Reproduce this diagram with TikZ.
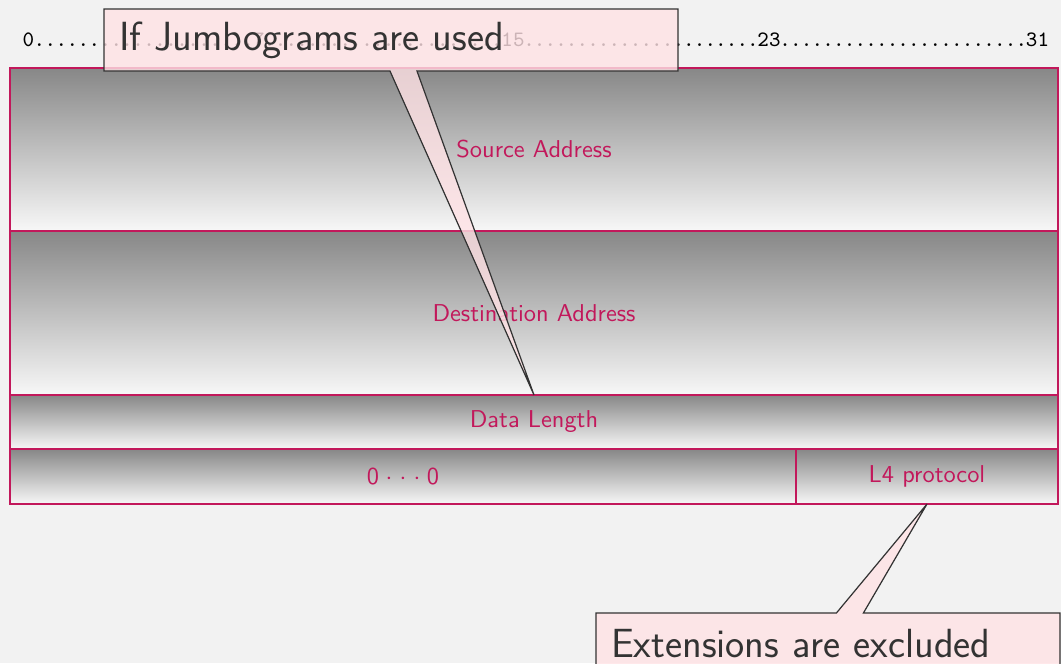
\documentclass[tikz,border=0pt]{standalone}
\usetikzlibrary{shapes.callouts}
\definecolor{bgc}{RGB}{242,242,242}
\definecolor{crim}{RGB}{194,24,91}
\definecolor{pinkc}{RGB}{255,226,229}
\definecolor{callc}{RGB}{51,51,51}
\newcommand\pxu{0.41pt}
\begin{document}
\begin{tikzpicture}[x=0.41pt,y=-0.41pt,
  field/.style={draw=crim, line width=0.6pt, top color=black!47, bottom color=black!3,
    text=crim, font=\sffamily, inner sep=0pt, outer sep=0pt, anchor=north west},
  rulenum/.style={font=\ttfamily\fontsize{9}{10}\selectfont, inner sep=0pt, text=black, anchor=base},
  note/.style={rectangle callout, draw=callc, line width=0.5pt, fill=pinkc, fill opacity=0.8,
    text opacity=1, text=callc, font=\sffamily\fontsize{16.7}{19}\selectfont, align=left,
    inner xsep=15*\pxu, callout pointer width=27*\pxu}
]
\clip (0,0) rectangle (1061,663);
\fill[bgc] (0,0) rectangle (1061,663);
% ruler
\node[rulenum] (r0) at (28.5,46) {0};
\node[rulenum] (r7) at (259,46) {7};
\node[rulenum] (r15) at (513,46) {15};
\node[rulenum] (r23) at (769,46) {23};
\node[rulenum] (r31) at (1037.5,46) {31};
\foreach \a/\b/\n/\g in {33.8/253.7/20/a, 264.3/502.3/22/b, 523.7/758.3/22/c, 779.7/1026.8/23/d}{
  \foreach \k in {1,...,\n}{
    \node[rulenum] (dot\g\k) at ({\a+(\k-0.5)*(\b-\a)/\n},46) {.};
  }
}
% fields
\node[field, minimum width=1048*\pxu, minimum height=163*\pxu] (src) at (10,68) {Source Address};
\node[field, minimum width=1048*\pxu, minimum height=164*\pxu] (dst) at (10,231) {Destination Address};
\node[field, minimum width=1048*\pxu, minimum height=54*\pxu] (dl) at (10,395) {Data Length};
\node[field, minimum width=786*\pxu, minimum height=55*\pxu] (zero) at (10,449)
  {0\hspace{2.6pt}$\cdot$\hspace{3pt}$\cdot$\hspace{3pt}$\cdot$\hspace{2.6pt}0};
\node[field, minimum width=262*\pxu, minimum height=55*\pxu] (l4) at (796,449) {L4 protocol};
% callouts
\node[note, text width=544*\pxu, minimum height=62*\pxu, callout absolute pointer={(dl.north)}] (c1) at (391,40) {If Jumbograms are used};
\node[note, text width=434*\pxu, minimum height=62*\pxu, callout absolute pointer={(l4.south)}] (c2) at (828,644) {Extensions are excluded};
\end{tikzpicture}
\end{document}
